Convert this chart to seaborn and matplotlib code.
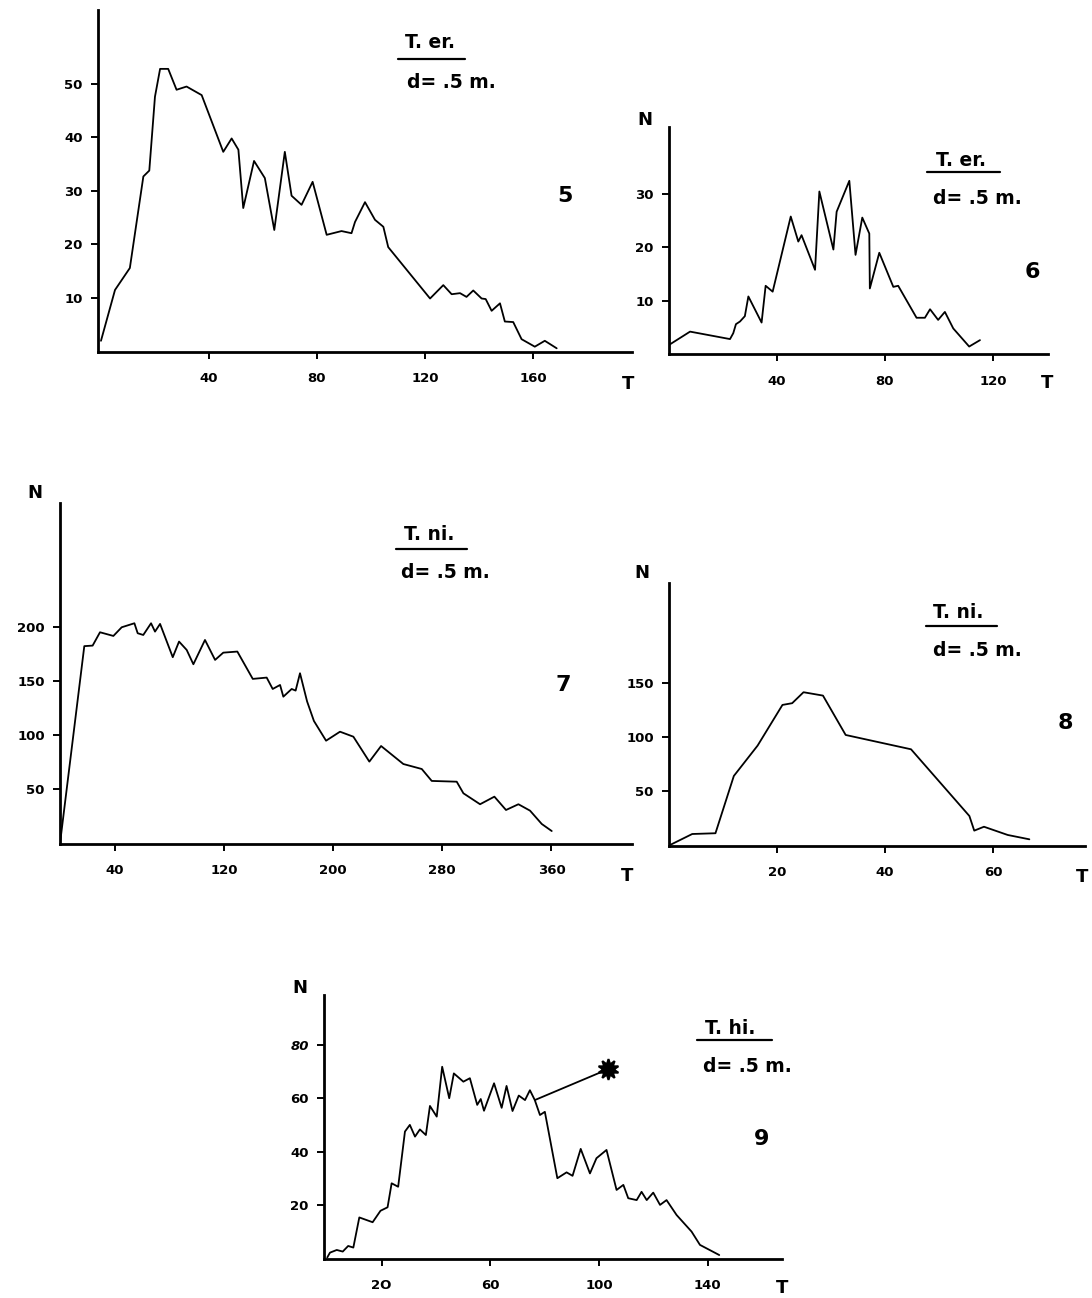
import numpy as np
import pandas as pd
import matplotlib
matplotlib.use("Agg")
import matplotlib.pyplot as plt
from matplotlib.lines import Line2D
import seaborn as sns

# ---------------- data ----------------
p5_T = [0, 5.2, 10.7, 15.7, 17.9, 20, 21.9, 24.9, 28, 31.7, 37.3, 45.3, 48.4, 50.9, 52.7,
        56.7, 60.7, 64.2, 68.1, 70.6, 74.3, 78.4, 83.6, 89.1, 92.8, 94.1, 97.8, 101.5,
        104.6, 106.4, 121.9, 126.8, 129.9, 133, 135.4, 137.9, 141, 142.5, 144.7, 147.8,
        149.6, 152.7, 155.8, 160.7, 164.4, 168.8]
p5_N = [2, 11.5, 15.6, 32.7, 33.8, 47.6, 52.8, 52.8, 48.9, 49.5, 47.9, 37.3, 39.8, 37.7, 26.8,
        35.6, 32.4, 22.7, 37.3, 29.1, 27.4, 31.7, 21.8, 22.5, 22.1, 24.2, 27.9, 24.6,
        23.3, 19.5, 9.9, 12.4, 10.7, 10.9, 10.2, 11.4, 9.9, 9.8, 7.6, 9.0,
        5.6, 5.5, 2.3, 0.9, 2.0, 0.6]

p6_T = [0, 7.8, 22.6, 23.8, 24.8, 26.3, 28.1, 29.4, 34.3, 35.8, 38.4, 45.1, 47.9, 49.1, 54.1,
        55.7, 60.9, 62.1, 66.8, 69.1, 71.6, 74.2, 74.4, 77.9, 83.1, 84.9, 91.7, 94.8, 96.7,
        99.7, 102.2, 105.3, 111.2, 115.2]
p6_N = [1.7, 4.2, 2.8, 3.9, 5.6, 6.1, 7.1, 10.8, 5.9, 12.8, 11.7, 25.8, 21.1, 22.3, 15.8,
        30.5, 19.6, 26.7, 32.5, 18.6, 25.6, 22.6, 12.3, 19.0, 12.6, 12.8, 6.8, 6.8, 8.4,
        6.4, 7.9, 4.8, 1.4, 2.6]

p7_T = [0, 17.8, 23.9, 29.3, 39.1, 45.2, 54.5, 56.9, 61, 66.7, 69.6, 73.3, 82.6, 87.2, 92.8,
        97.7, 106.2, 113.6, 119.6, 129.9, 141.2, 151.4, 155.8, 161.2, 163.6, 169.7, 172.6,
        175.8, 181, 186, 194.9, 205.1, 214.9, 226.6, 235.2, 251.5, 265, 272.3, 290.6,
        295.5, 307.7, 318.2, 326.7, 335.8, 344.3, 352.9, 360.2]
p7_N = [0, 182, 182.5, 194.8, 191.4, 199.4, 203.1, 193.9, 192.3, 203.1, 195.4, 202.5, 171.8,
        186.2, 178.5, 165.3, 187.7, 169.3, 176, 177, 151.8, 153, 142.5, 146.2, 135.4, 142.5,
        141, 157, 131, 113, 94.8, 103.1, 98.5, 75.5, 89.9, 73.3, 68.7, 57.7, 57,
        46.3, 36.2, 43.2, 30.9, 36.2, 30.3, 18, 11.5]

p8_T = [0, 4.3, 8.6, 12, 16.4, 21, 22.8, 24.9, 28.5, 32.7, 44.8, 55.6, 56.5, 58.3, 62.7, 66.7]
p8_N = [0, 10.6, 11.3, 64.1, 92.1, 129.6, 131.2, 141.3, 138.2, 101.9, 88.7, 27.2, 13.7,
        17.3, 9.7, 5.7]

p9_T = [0, 1, 3.5, 5.7, 7.7, 9.6, 11.8, 16.7, 19.6, 22.2, 23.7, 26.1, 28.6, 30.4, 32.3, 34.1,
        36.3, 37.8, 40.3, 42.3, 44.9, 46.6, 50.1, 52.5, 55.2, 56.5, 57.7, 61.4, 64.2, 66,
        68.2, 70.5, 72.8, 74.6, 76.4, 78.3, 80.1, 84.7, 88.1, 90.3, 93.3, 96.7, 99.1,
        102.8, 106.5, 109, 110.8, 113.9, 115.7, 117.6, 120, 122.5, 124.9, 128.6, 134.1,
        137.2, 144.3]
p9_N = [0.4, 2.2, 3.2, 2.6, 4.7, 4.1, 15.4, 13.6, 17.9, 19.2, 28.2, 26.9, 47.6, 50.1, 45.7,
        48.4, 46.3, 57.2, 53.2, 71.9, 60.1, 69.4, 66.3, 67.6, 57.6, 59.8, 55.4, 65.7, 56.5,
        64.7, 55.3, 61.1, 59.4, 63.1, 59.4, 53.8, 55, 30.1, 32.3, 31, 41.1, 31.9, 37.6,
        40.7, 25.7, 27.6, 22.6, 21.9, 25, 21.9, 24.7, 20.1, 21.9, 16.3, 10.1,
        5.1, 1.3]
# call-out to the star symbol in panel 9
p9_callout_T = [76.4, 103.4]
p9_callout_N = [59.4, 71.0]

p5_xticks = [40, 80, 120, 160]
p5_yticks = [10, 20, 30, 40, 50]
p6_xticks = [40, 80, 120]
p6_yticks = [10, 20, 30]
p7_xticks = [40, 120, 200, 280, 360]
p7_yticks = [50, 100, 150, 200]
p8_xticks = [20, 40, 60]
p8_yticks = [50, 100, 150]
p9_xticks = [20, 60, 100, 140]
p9_xticklabels = ["2O", "60", "100", "140"]
p9_yticks = [20, 40, 60, 80]

species = ["T. er.", "T. er.", "T. ni.", "T. ni.", "T. hi."]
depth_label = "d= .5 m."
panel_numbers = ["5", "6", "7", "8", "9"]

# ---------------- style ----------------
sns.set_theme(style="ticks")
plt.rcParams["font.family"] = ["DejaVu Sans"]
plt.rcParams["font.weight"] = "bold"

W, H = 1092, 1298
fig = plt.figure(figsize=(W / 100, H / 100), dpi=100)
fig.patch.set_facecolor("white")


def add_axes_px(left, right, top, bottom):
    return fig.add_axes([left / W, 1 - bottom / H, (right - left) / W, (bottom - top) / H])


def ftext(x, y, s, **kw):
    fig.text(x / W, 1 - y / H, s, ha="center", va="center", color="black", **kw)


def uline(x0, x1, y):
    fig.add_artist(Line2D([x0 / W, x1 / W], [1 - y / H, 1 - y / H], color="black", lw=1.6,
                          transform=fig.transFigure))


def style_axes(ax, xlim, ylim, xticks, yticks, xticklabels=None):
    ax.set_xlim(*xlim)
    ax.set_ylim(*ylim)
    ax.set_xticks(xticks)
    ax.set_yticks(yticks)
    if xticklabels is not None:
        ax.set_xticklabels(xticklabels)
    for s in ["top", "right"]:
        ax.spines[s].set_visible(False)
    for s in ["left", "bottom"]:
        ax.spines[s].set_linewidth(2.0)
        ax.spines[s].set_color("black")
    ax.tick_params(axis="both", direction="out", length=5, width=1.4, colors="black",
                   labelsize=9.5)
    ax.tick_params(axis="y", pad=6)
    ax.tick_params(axis="x", pad=10)
    for lab in ax.get_xticklabels() + ax.get_yticklabels():
        lab.set_fontweight("bold")
    ax.set_xlabel("")
    ax.set_ylabel("")
    ax.set_facecolor("white")
    ax.grid(False)


def draw(ax, T, N):
    df = pd.DataFrame({"T": T, "N": N})
    sns.lineplot(data=df, x="T", y="N", ax=ax, color="black", linewidth=1.3,
                 estimator=None, sort=False, legend=False)


# Panel 5
ax5 = add_axes_px(98, 632, 10, 351.5)
draw(ax5, p5_T, p5_N)
style_axes(ax5, (-1.1, 196.7), (0, 63.8), p5_xticks, p5_yticks)

# Panel 6
ax6 = add_axes_px(669, 1048, 127, 354)
draw(ax6, p6_T, p6_N)
style_axes(ax6, (0, 140.4), (0, 42.6), p6_xticks, p6_yticks)

# Panel 7
ax7 = add_axes_px(60, 632, 503, 843.5)
draw(ax7, p7_T, p7_N)
style_axes(ax7, (0, 419), (0, 314), p7_xticks, p7_yticks)

# Panel 8
ax8 = add_axes_px(669, 1085, 583, 845.5)
draw(ax8, p8_T, p8_N)
style_axes(ax8, (0, 77), (0, 242), p8_xticks, p8_yticks)

# Panel 9
ax9 = add_axes_px(324, 782, 995, 1258.5)
draw(ax9, p9_T, p9_N)
sns.lineplot(x=p9_callout_T, y=p9_callout_N, ax=ax9, color="black", linewidth=1.3,
             estimator=None, sort=False, legend=False)
ax9.plot([p9_callout_T[-1]], [p9_callout_N[-1]], marker=(10, 1, 0), markersize=15,
         color="black", markeredgewidth=1.5)
ax9.plot([p9_callout_T[-1]], [p9_callout_N[-1]], marker="o", markersize=9, color="black")
style_axes(ax9, (-1.2, 167.4), (0, 98.8), p9_xticks, p9_yticks, xticklabels=p9_xticklabels)
ax9.get_yticklabels()[-1].set_fontstyle("italic")

# ---------------- annotations ----------------
lab_kw = dict(fontsize=13.5, fontweight="bold")
num_kw = dict(fontsize=16, fontweight="bold")
axl_kw = dict(fontsize=13, fontweight="bold")

# panel 5
ftext(430, 42.5, species[0], **lab_kw)
uline(398, 465, 58.5)
ftext(451, 82.5, depth_label, **lab_kw)
ftext(565, 196, panel_numbers[0], **num_kw)
ftext(628, 384, "T", **axl_kw)

# panel 6
ftext(961, 160, species[1], **lab_kw)
uline(927, 1000, 172)
ftext(977, 198.5, depth_label, **lab_kw)
ftext(1032, 272, panel_numbers[1], **num_kw)
ftext(645, 120, "N", **axl_kw)
ftext(1047, 383, "T", **axl_kw)

# panel 7
ftext(429, 534, species[2], **lab_kw)
uline(396, 467, 549)
ftext(445, 573, depth_label, **lab_kw)
ftext(563, 685, panel_numbers[2], **num_kw)
ftext(35, 493, "N", **axl_kw)
ftext(627, 876, "T", **axl_kw)

# panel 8
ftext(958, 613, species[3], **lab_kw)
uline(926, 997, 626)
ftext(977, 650, depth_label, **lab_kw)
ftext(1065, 723, panel_numbers[3], **num_kw)
ftext(642, 573, "N", **axl_kw)
ftext(1082, 877, "T", **axl_kw)

# panel 9
ftext(730, 1028, species[4], **lab_kw)
uline(697, 772, 1040)
ftext(747, 1066, depth_label, **lab_kw)
ftext(762, 1139, panel_numbers[4], **num_kw)
ftext(300, 988, "N", **axl_kw)
ftext(782, 1288, "T", **axl_kw)

fig.savefig("out.png", dpi=100, facecolor="white")
